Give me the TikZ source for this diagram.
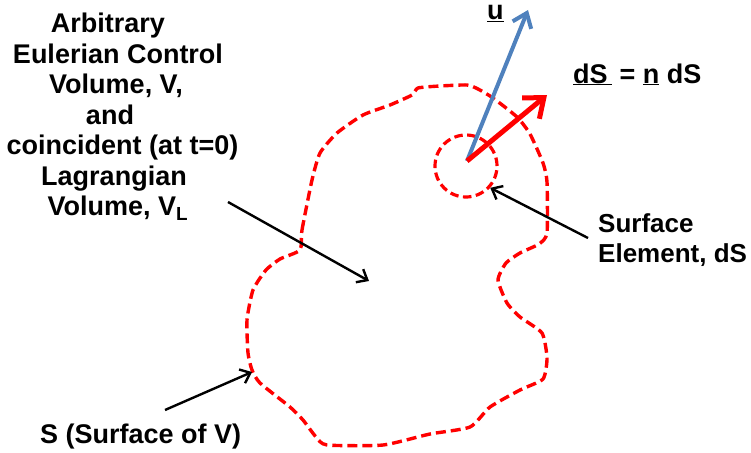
\documentclass[tikz,border=0pt]{standalone}
\usepackage{fontspec}
\setmainfont{Liberation Sans}
\usetikzlibrary{arrows.meta}
\definecolor{ublue}{RGB}{79,129,189}
\begin{document}
\begin{tikzpicture}[x=1pt,y=-1pt,
  lbl/.style={font=\fontsize{27}{30.5}\selectfont\bfseries, inner sep=0pt},
  pointer/.style={draw=black, line width=2.4pt, -{Straight Barb[length=9pt,width=15pt,line width=2.4pt]}},
  outline/.style={draw=red, line width=3.4pt, dash pattern=on 10pt off 5pt, line cap=butt},
]
\useasboundingbox (0,0) rectangle (751,452);

% control volume surface
\draw[outline] plot[smooth cycle, tension=0.35] coordinates {
 (300,250) (302,230) (312,180) (320,153) (337,133) (363,115) (390,105) (412,95)
 (418,88) (440,86) (467,85) (478,89) (493,98) (517,117) (530,134) (543,163)
 (547,182) (547,233) (539,244) (520,253) (506,263) (498,280) (507,303) (520,317)
 (542,333) (547,358) (543,379) (520,390) (490,407) (470,427) (430,434) (383,445)
 (327,445) (316,437) (303,420) (290,407) (260,383) (252,370) (248,353) (247,320)
 (253,290) (266,270) (280,259)};

% surface element
\node[circle, draw=red, line width=3.2pt, dash pattern=on 8.5pt off 4.5pt, minimum size=62pt, inner sep=0pt] (elem) at (466,166) {};

\coordinate (o) at (467,161);
\coordinate (utip) at (528,10);
\coordinate (ntip) at (547,95);
\draw[ublue, line width=4pt, -{Straight Barb[length=13pt,width=20pt,line width=4pt]}] (o) -- (utip);
\draw[red, line width=5pt, -{Straight Barb[length=17pt,width=27pt,line width=5pt]}] (o) -- (ntip);

% labels
\node[lbl, align=center, anchor=north] (vol) at (118,13) {Arbitrary\kern20pt\\Eulerian Control\\Volume, V,\kern4pt\\and\kern16pt\\\kern9pt coincident (at t=0)\\Lagrangian\kern8pt\\Volume, V\textsubscript{L}};
\node[lbl, anchor=base west] (u) at (487,20) {\underline{u}};
\node[lbl, anchor=base west] (ds) at (573,83) {\underline{dS\,} = \underline{n} dS};
\node[lbl, font=\fontsize{26}{30}\selectfont\bfseries, align=left, anchor=north west] (se) at (598,213) {Surface\\Element, dS};
\node[lbl, anchor=base west] (sv) at (40,443) {S (Surface of V)};

% pointers
\coordinate (p1s) at (228,202);
\coordinate (p1e) at (369,281);
\coordinate (p2s) at (588,238);
\coordinate (p3s) at (165,410);
\coordinate (p3e) at (252,372);
\draw[pointer] (p1s) -- (p1e);
\draw[pointer] (p2s) -- (elem.-42);
\draw[pointer] (p3s) -- (p3e);
\end{tikzpicture}
\end{document}
